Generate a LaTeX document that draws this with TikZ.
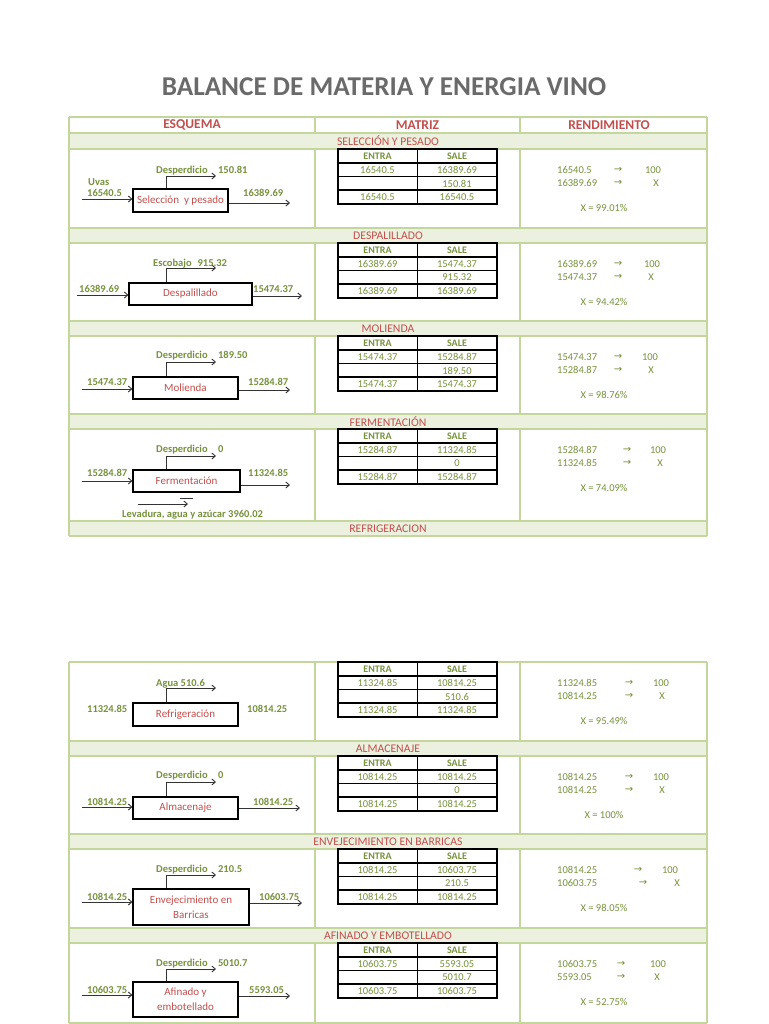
\documentclass[tikz,border=0pt]{standalone}
\usepackage{fontspec}
\setmainfont{Carlito}
\newfontfamily\dejavu{DejaVu Sans}
\usetikzlibrary{arrows.meta}
\definecolor{tred}{HTML}{C0504D}
\definecolor{tgreen}{HTML}{76923C}
\definecolor{tgray}{HTML}{6A6A6A}
\definecolor{bandfill}{HTML}{EBF1DE}
\definecolor{gridc}{HTML}{C3D69B}
\tikzset{
  tline/.style={draw=gridc, line width=1.2pt},
  hdr/.style={font=\fontsize{13.5}{16}\selectfont\bfseries, text=tred, inner sep=0pt},
  bandtxt/.style={font=\fontsize{11.7}{14}\selectfont, text=tred, inner sep=0pt},
  mline/.style={draw=black, line width=1.1pt},
  mhead/.style={font=\fontsize{10}{12}\selectfont\bfseries, text=tgreen, inner sep=0pt},
  mval/.style={font=\fontsize{10.5}{12}\selectfont, text=tgreen, inner sep=0pt},
  rarr/.style={font=\dejavu\fontsize{10}{12}\selectfont, text=tgreen, inner sep=0pt},
  lbl/.style={font=\fontsize{10.5}{12}\selectfont\bfseries, text=tgreen, inner sep=0pt, anchor=base west},
  pbox/.style={draw=black, line width=1.1pt, font=\fontsize{11}{15}\selectfont, text=tred, align=center, inner sep=0pt},
  flow/.style={draw=black!80, line width=0.9pt, -{Straight Barb[length=3.5pt,width=6pt]}},
  plain/.style={draw=black!80, line width=0.9pt}
}
\newcommand{\mtx}[7]{%
  \draw[mline] (338,#1) rectangle (497,{#1+55});
  \draw[mline] (417.5,#1) -- (417.5,{#1+55});
  \foreach \k in {14,27.5,41} {\draw[mline] (338,{#1+\k}) -- (497,{#1+\k});}
  \node[mhead] (#2e) at (377.5,{#1+7}) {ENTRA};
  \node[mhead] (#2s) at (457,{#1+7}) {SALE};
  \node[mval] (#2a) at (377.5,{#1+21}) {#3};
  \node[mval] (#2b) at (457,{#1+21}) {#4};
  \node[mval] (#2c) at (457,{#1+34.5}) {#5};
  \node[mval] (#2d) at (377.5,{#1+48}) {#6};
  \node[mval] (#2f) at (457,{#1+48}) {#7};
}
\newcommand{\rend}[9]{%
  \node[mval, anchor=west] (#2a) at (557,{#1+21}) {#3};
  \node[rarr] (#2b) at (#5,{#1+21}) {→};
  \node[mval] (#2c) at (#6,{#1+21}) {100};
  \node[mval, anchor=west] (#2d) at (557,{#1+34}) {#4};
  \node[rarr] (#2f) at (#7,{#1+34}) {→};
  \node[mval] (#2g) at (#8,{#1+34}) {X};
  \node[mval] (#2h) at (604,{#1+59}) {X = #9};
}
\begin{document}
\begin{tikzpicture}[x=1pt,y=-1pt]
\useasboundingbox[fill=white] (0,0) rectangle (768,1024);
% title
\node[font=\fontsize{27.2}{30}\selectfont\bfseries, text=tgray, inner sep=0pt] (title) at (384,87) {BALANCE DE MATERIA Y ENERGIA VINO};
% bands
\foreach \a/\b in {133/149,228/243,321/336,414/429,521/536,741/756,834/849,928/943}
  {\fill[bandfill] (69,\a) rectangle (707,\b);}
% grid part 1
\foreach \y in {117,133,149,228,243,321,336,414,429,521,536}
  {\draw[tline] (69,\y) -- (707,\y);}
\draw[tline] (69,117) -- (69,536);
\draw[tline] (707,117) -- (707,536);
\foreach \a/\b in {117/133,149/228,243/321,336/414,429/521}
  {\draw[tline] (315,\a) -- (315,\b); \draw[tline] (520,\a) -- (520,\b);}
% grid part 2
\foreach \y in {662,741,756,834,849,928,943,1023}
  {\draw[tline] (69,\y) -- (707,\y);}
\draw[tline] (69,662) -- (69,1023);
\draw[tline] (707,662) -- (707,1023);
\foreach \a/\b in {662/741,756/834,849/928,943/1023}
  {\draw[tline] (315,\a) -- (315,\b); \draw[tline] (520,\a) -- (520,\b);}
% headers
\node[hdr] (h1) at (192,125) {ESQUEMA};
\node[hdr] (h2) at (417.5,125) {MATRIZ};
\node[hdr] (h3) at (609,125) {RENDIMIENTO};
% band texts
\node[bandtxt] (t1) at (388,141) {SELECCIÓN Y PESADO};
\node[bandtxt] (t2) at (388,235.5) {DESPALILLADO};
\node[bandtxt] (t3) at (388,328.5) {MOLIENDA};
\node[bandtxt] (t4) at (388,421.5) {FERMENTACIÓN};
\node[bandtxt] (t5) at (388,528.5) {REFRIGERACION};
\node[bandtxt] (t6) at (388,748.5) {ALMACENAJE};
\node[bandtxt] (t7) at (388,841.5) {ENVEJECIMIENTO EN BARRICAS};
\node[bandtxt] (t8) at (388,935.5) {AFINADO Y EMBOTELLADO};
% matrices
\mtx{149}{ma}{16540.5}{16389.69}{150.81}{16540.5}{16540.5}
\mtx{243}{mb}{16389.69}{15474.37}{915.32}{16389.69}{16389.69}
\mtx{336}{mc}{15474.37}{15284.87}{189.50}{15474.37}{15474.37}
\mtx{429}{md}{15284.87}{11324.85}{0}{15284.87}{15284.87}
\mtx{662}{me}{11324.85}{10814.25}{510.6}{11324.85}{11324.85}
\mtx{756}{mf}{10814.25}{10814.25}{0}{10814.25}{10814.25}
\mtx{849}{mg}{10814.25}{10603.75}{210.5}{10814.25}{10814.25}
\mtx{943}{mh}{10603.75}{5593.05}{5010.7}{10603.75}{10603.75}
% rendimiento
\rend{149}{ra}{16540.5}{16389.69}{618}{653}{618}{656}{99.01\%}
\rend{243}{rb}{16389.69}{15474.37}{618}{652}{618}{651}{94.42\%}
\rend{336}{rc}{15474.37}{15284.87}{618}{650}{618}{651}{98.76\%}
\rend{429}{rd}{15284.87}{11324.85}{627}{658}{627}{660}{74.09\%}
\rend{662}{re}{11324.85}{10814.25}{629}{661}{629}{662}{95.49\%}
\rend{756}{rf}{10814.25}{10814.25}{629}{661}{629}{662}{100\%}
\rend{849}{rg}{10814.25}{10603.75}{638}{670}{643}{677}{98.05\%}
\rend{943}{rh}{10603.75}{5593.05}{621}{658}{621}{657}{52.75\%}
% ---- schema 1
\node[pbox, minimum width=95pt, minimum height=23pt] (b1) at (180.5,200.5) {Selección\ \ y pesado};
\coordinate (i1) at (82,199); \coordinate (o1) at (290,203);
\coordinate (k1) at (166,176); \coordinate (w1) at (216,176);
\draw[flow] (i1) -- (i1 -| b1.west);
\draw[flow] (b1.east |- o1) -- (o1);
\draw[flow] (k1 |- b1.north) -- (k1) -- (w1);
\node[lbl] (l1a) at (88,186) {Uvas};
\node[lbl] (l1b) at (87,197) {16540.5};
\node[lbl] (l1c) at (243,197) {16389.69};
\node[lbl] (l1d) at (156,174) {Desperdicio\quad 150.81};
% ---- schema 2
\node[pbox, minimum width=123pt, minimum height=22pt] (b2) at (190.5,294) {Despalillado};
\coordinate (i2) at (77,295); \coordinate (o2) at (302,296);
\coordinate (k2) at (166,268); \coordinate (w2) at (216,268);
\draw[flow] (i2) -- (i2 -| b2.west);
\draw[flow] (b2.east |- o2) -- (o2);
\draw[flow] (k2 |- b2.north) -- (k2) -- (w2);
\node[lbl] (l2b) at (79,292) {16389.69};
\node[lbl] (l2c) at (253,292) {15474.37};
\node[lbl] (l2d) at (153,266) {Escobajo\hspace{6pt}915.32};
% ---- schema 3
\node[pbox, minimum width=105pt, minimum height=22pt] (b3) at (185.5,388) {Molienda};
\coordinate (i3) at (82,389); \coordinate (o3) at (290,390);
\coordinate (k3) at (166,362); \coordinate (w3) at (216,362);
\draw[flow] (i3) -- (i3 -| b3.west);
\draw[flow] (b3.east |- o3) -- (o3);
\draw[flow] (k3 |- b3.north) -- (k3) -- (w3);
\node[lbl] (l3b) at (87,385) {15474.37};
\node[lbl] (l3c) at (248,385) {15284.87};
\node[lbl] (l3d) at (156,358) {Desperdicio\quad 189.50};
% ---- schema 4
\node[pbox, minimum width=107pt, minimum height=22pt] (b4) at (186.5,481) {Fermentación};
\coordinate (i4) at (82,481); \coordinate (o4) at (290,485);
\coordinate (k4) at (166,456); \coordinate (w4) at (216,456);
\draw[flow] (i4) -- (i4 -| b4.west);
\draw[flow] (b4.east |- o4) -- (o4);
\draw[flow] (k4 |- b4.north) -- (k4) -- (w4);
\coordinate (e4a) at (138,504); \coordinate (e4b) at (188,504);
\draw[flow] (e4a) -- (e4b);
\coordinate (s4a) at (180,498); \coordinate (s4b) at (193,498);
\draw[plain] (s4a) -- (s4b);
\node[lbl] (l4b) at (87,476) {15284.87};
\node[lbl] (l4c) at (248,476) {11324.85};
\node[lbl] (l4d) at (156,452) {Desperdicio\quad 0};
\node[lbl] (l4e) at (122,517) {Levadura, agua y azúcar 3960.02};
% ---- schema 5
\node[pbox, minimum width=105pt, minimum height=23pt] (b5) at (185.5,714.5) {Refrigeración};
\coordinate (k5) at (166,688); \coordinate (w5) at (216,688);
\draw[flow] (k5 |- b5.north) -- (k5) -- (w5);
\node[lbl] (l5b) at (87,712) {11324.85};
\node[lbl] (l5c) at (247,712) {10814.25};
\node[lbl] (l5d) at (156,686) {Agua 510.6};
% ---- schema 6
\node[pbox, minimum width=105pt, minimum height=22pt] (b6) at (185.5,808) {Almacenaje};
\coordinate (i6) at (82,807); \coordinate (o6) at (300,808);
\coordinate (k6) at (166,782); \coordinate (w6) at (216,782);
\draw[flow] (i6) -- (i6 -| b6.west);
\draw[flow] (b6.east |- o6) -- (o6);
\draw[flow] (k6 |- b6.north) -- (k6) -- (w6);
\node[lbl] (l6b) at (87,805) {10814.25};
\node[lbl] (l6c) at (253,805) {10814.25};
\node[lbl] (l6d) at (156,778) {Desperdicio\quad 0};
% ---- schema 7
\node[pbox, minimum width=116pt, minimum height=36pt] (b7) at (191,907) {Envejecimiento en\\Barricas};
\coordinate (i7) at (82,902); \coordinate (o7) at (302,903);
\coordinate (k7) at (166,875); \coordinate (w7) at (216,875);
\draw[flow] (i7) -- (i7 -| b7.west);
\draw[flow] (b7.east |- o7) -- (o7);
\draw[flow] (k7 |- b7.north) -- (k7) -- (w7);
\node[lbl] (l7b) at (87,900) {10814.25};
\node[lbl] (l7c) at (259,900) {10603.75};
\node[lbl] (l7d) at (156,872) {Desperdicio\quad 210.5};
% ---- schema 8
\node[pbox, minimum width=105pt, minimum height=35pt] (b8) at (185.5,999.5) {Afinado y\\embotellado};
\coordinate (i8) at (82,995); \coordinate (o8) at (290,996);
\coordinate (k8) at (166,969); \coordinate (w8) at (216,969);
\draw[flow] (i8) -- (i8 -| b8.west);
\draw[flow] (b8.east |- o8) -- (o8);
\draw[flow] (k8 |- b8.north) -- (k8) -- (w8);
\node[lbl] (l8b) at (87,993) {10603.75};
\node[lbl] (l8c) at (249,993) {5593.05};
\node[lbl] (l8d) at (156,966) {Desperdicio\quad 5010.7};
\end{tikzpicture}
\end{document}
